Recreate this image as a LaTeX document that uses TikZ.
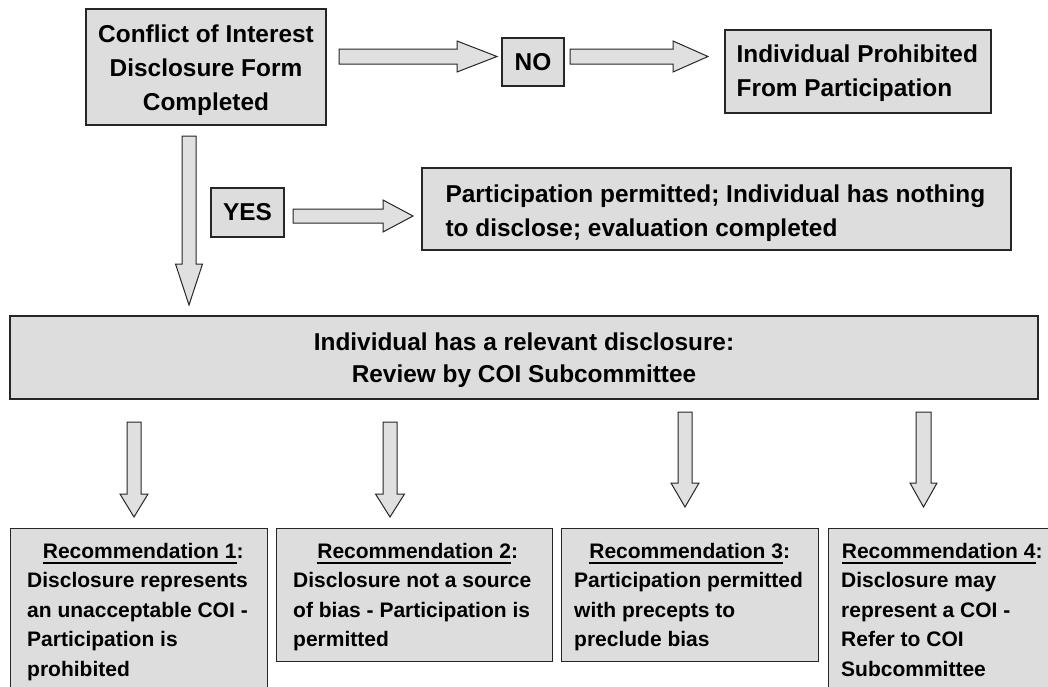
\documentclass[tikz,border=0pt]{standalone}
\usepackage{fontspec}
\setmainfont{Liberation Sans}
\definecolor{boxgray}{HTML}{DDDDDD}
\definecolor{arrgray}{HTML}{E0E0E0}
\newsavebox\recubox
\newcommand{\recul}[1]{\sbox\recubox{#1}\rlap{\rule[-5.5pt]{\wd\recubox}{2pt}}\usebox\recubox}
\newcommand{\harrow}[6]{%
  \draw[barrow] (#1,#4-#5) -- (#2,#4-#5) -- (#2,#4-#6) -- (#3,#4) -- (#2,#4+#6) -- (#2,#4+#5) -- (#1,#4+#5) -- cycle;}
\newcommand{\varrow}[6]{%
  \draw[barrow] (#1-#5,#2) -- (#1-#5,#3) -- (#1-#6,#3) -- (#1,#4) -- (#1+#6,#3) -- (#1+#5,#3) -- (#1+#5,#2) -- cycle;}
\begin{document}
\begin{tikzpicture}[x=1pt,y=-1pt,
  box/.style={draw=black!85, line width=1.2pt, fill=boxgray, inner sep=0pt,
    font=\bfseries\fontsize{24.4}{34}\selectfont},
  frame/.style={draw=black!85, line width=1.2pt, fill=boxgray, inner sep=0pt},
  boxtext/.style={inner sep=0pt, anchor=west, align=left,
    font=\bfseries\fontsize{24.4}{34}\selectfont},
  barrow/.style={draw=black!85, line width=1pt, fill=arrgray, line join=miter},
  recframe/.style={frame, anchor=north west},
  rectext/.style={inner sep=0pt, anchor=north west, align=left,
    font=\bfseries\fontsize{21}{29.5}\selectfont}]
\path[use as bounding box] (0,0) rectangle (1048,686);
\clip (0,0) rectangle (1048,686);

% top row
\node[box, minimum width=240, minimum height=116, align=center] (coi) at (206,67)
  {\rule{0pt}{24pt}Conflict of Interest\\Disclosure Form\\Completed};
\node[box, minimum width=62, minimum height=48] (no) at (533,62) {NO};
\node[frame, minimum width=266, minimum height=83] (proh) at (858,71.5) {};
\node[boxtext] (proht) at ([xshift=12pt, yshift=-2pt]proh.west)
  {Individual Prohibited\\From Participation};

% yes row
\node[box, minimum width=73, minimum height=49] (yes) at (247.5,212.5) {YES};
\node[frame, minimum width=589, minimum height=82] (part) at (716.5,209) {};
\node[boxtext] (partt) at ([xshift=24pt, yshift=-4.5pt]part.west)
  {Participation permitted; Individual has nothing\\to disclose; evaluation completed};

% big box
\node[box, minimum width=1028, minimum height=83, align=center,
  font=\bfseries\fontsize{24.4}{32}\selectfont] (big) at (524,357.5)
  {\rule{0pt}{24pt}Individual has a relevant disclosure:\\Review by COI Subcommittee};

% recommendation boxes
\node[recframe, minimum width=257, minimum height=200] (r1) at (10,528) {};
\node[recframe, minimum width=276, minimum height=133] (r2) at (276,528) {};
\node[recframe, minimum width=257, minimum height=133] (r3) at (561,528) {};
\node[recframe, minimum width=232, minimum height=200] (r4) at (828,528) {};

\node[rectext] (r1t) at ([xshift=17pt, yshift=-14.7pt]r1.north west)
  {\makebox[232pt][c]{\recul{Recommendation 1}:}\\Disclosure represents\\an unacceptable COI -\\Participation is\\prohibited};
\node[rectext] (r2t) at ([xshift=17pt, yshift=-14.7pt]r2.north west)
  {\makebox[249pt][c]{\recul{Recommendation 2}:}\\Disclosure not a source\\of bias - Participation is\\permitted};
\node[rectext] (r3t) at ([xshift=13pt, yshift=-14.7pt]r3.north west)
  {\makebox[231pt][c]{\recul{Recommendation 3}:}\\Participation permitted\\with precepts to\\preclude bias};
\node[rectext] (r4t) at ([xshift=13pt, yshift=-14.7pt]r4.north west)
  {\makebox[202pt][c]{\recul{Recommendation 4}:}\\Disclosure may\\represent a COI -\\Refer to COI\\Subcommittee};

% block arrows
\harrow{339}{457}{497}{56.5}{7.5}{15.5}
\harrow{570}{673}{708}{56.5}{7.5}{15.5}
\harrow{293}{383}{413}{216}{7}{16}
\varrow{189}{136}{264}{305}{7}{13.5}
\varrow{134}{422}{494}{517}{7}{14}
\varrow{390}{422}{494}{517}{7}{14.5}
\varrow{685}{412}{483}{507}{7}{14}
\varrow{923.5}{412}{483}{507}{7.5}{13.5}
\end{tikzpicture}
\end{document}
